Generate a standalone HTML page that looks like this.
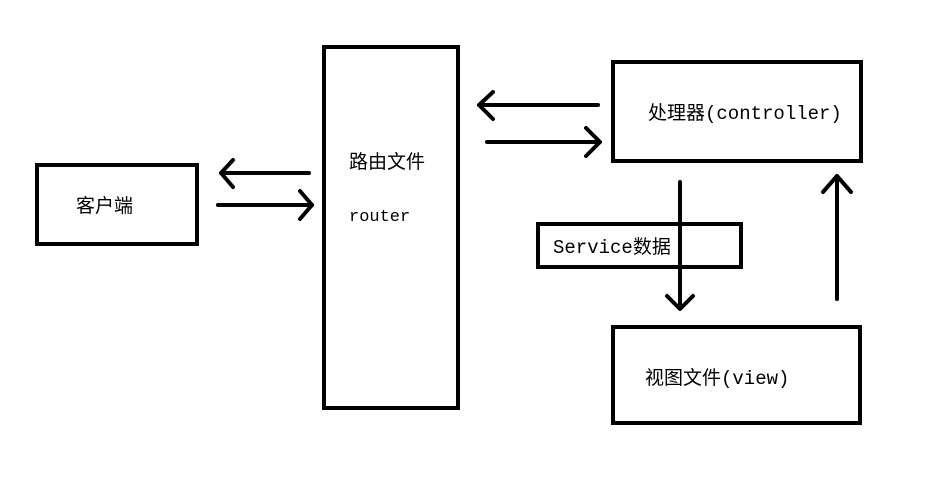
<!DOCTYPE html>
<html><head><meta charset="utf-8"><style>html,body{margin:0;padding:0;background:#fff}svg{display:block}</style></head>
<body>
<svg width="929" height="477" viewBox="0 0 929 477" xmlns="http://www.w3.org/2000/svg">
<g fill="none" stroke="#000" stroke-width="4">
<rect x="37" y="165" width="160" height="79"/>
<rect x="324" y="47" width="134" height="361"/>
<rect x="613" y="62" width="248" height="99"/>
<rect x="613" y="327" width="247" height="96"/>
<rect x="538" y="224" width="203" height="43"/>
</g>
<g fill="none" stroke="#000" stroke-width="4" stroke-linecap="round" stroke-linejoin="round">
<path d="M309 173 H221 M233 160 L221 173 L233 187"/>
<path d="M218 205 H312 M300 191 L312 205 L300 219"/>
<path d="M598 105 H479 M493 92 L479 105 L493 119"/>
<path d="M487 142 H600 M586 128 L600 142 L586 156"/>
<path d="M680 182 V308 M667 296 L680 309 L693 296"/>
<path d="M837 299 V176 M823 192 L837 176 L851 192"/>
</g>
<g font-family="'Liberation Mono','Noto Sans CJK SC',monospace" font-size="19" fill="#000">
<text x="76" y="212">客户端</text>
<text x="349" y="168">路由文件</text>
<text x="349" y="221" font-size="17">router</text>
<text x="648" y="119">处理器(controller)</text>
<text x="553" y="253">Service数据</text>
<text x="645" y="384">视图文件(view)</text>
</g>
</svg>
</body></html>
